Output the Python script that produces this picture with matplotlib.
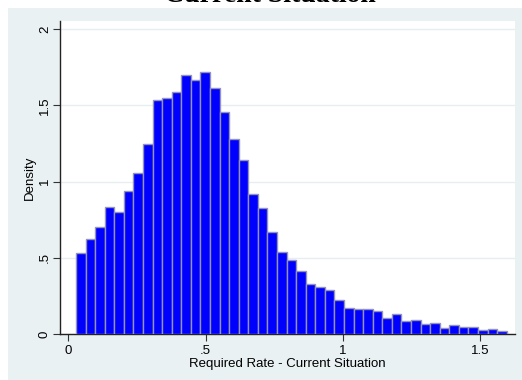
import numpy as np
import matplotlib.pyplot as plt
from matplotlib.patches import Rectangle

# histogram of required rate, 45 bins
bin_start = 0.028
bin_width = 0.03486
density = [0.53, 0.625, 0.704, 0.835, 0.80, 0.94, 1.058, 1.247, 1.533, 1.551,
           1.59, 1.70, 1.669, 1.721, 1.616, 1.459, 1.282, 1.14, 0.921, 0.825,
           0.667, 0.54, 0.483, 0.416, 0.326, 0.31, 0.291, 0.225, 0.173, 0.166,
           0.166, 0.153, 0.107, 0.129, 0.087, 0.094, 0.068, 0.072, 0.041, 0.059,
           0.046, 0.048, 0.028, 0.031, 0.022]
x_ticks = [0, 0.5, 1, 1.5]
x_labels = ["0", ".5", "1", "1.5"]
y_ticks = [0, 0.5, 1, 1.5, 2]
y_labels = ["0", ".5", "1", "1.5", "2"]

plt.rcParams['font.family'] = ['Liberation Sans', 'DejaVu Sans']

fig = plt.figure(figsize=(5.22, 3.80), dpi=100)
fig.patch.set_facecolor('white')
bg = '#eaf1f3'
fig.add_artist(Rectangle((8 / 522, 0), 1, 372 / 380, transform=fig.transFigure,
                         facecolor=bg, edgecolor='none', zorder=0))

ax = fig.add_axes([60 / 522, 46 / 380, 455 / 522, 313 / 380])
ax.set_facecolor('white')

edges = bin_start + bin_width * np.arange(len(density))
ax.bar(edges, density, width=bin_width, align='edge', color='#0000ff',
       edgecolor='#9494b8', linewidth=1.0, zorder=3)

ax.set_xlim(-0.0302, 1.6267)
ax.set_ylim(0, 2.054)
ax.set_xticks(x_ticks)
ax.set_xticklabels(x_labels, fontsize=9.5)
ax.set_yticks(y_ticks)
ax.set_yticklabels(y_labels, fontsize=9.5, rotation=90, va='center')
ax.tick_params(direction='out', length=5, width=0.8, color='#333333')
ax.tick_params(axis='x', pad=3)
ax.tick_params(axis='y', pad=1.5)
ax.yaxis.grid(True, color='#e6eef0', linewidth=1.0, zorder=0)
ax.set_axisbelow(True)

for side in ['top', 'right']:
    ax.spines[side].set_visible(False)
for side in ['left', 'bottom']:
    ax.spines[side].set_color('#222222')
    ax.spines[side].set_linewidth(1.0)

ax.set_xlabel('Required Rate - Current Situation', fontsize=9.5, labelpad=1)
ax.set_ylabel('Density', fontsize=9.5, labelpad=2)

fig.text(270 / 522, 378.5 / 380, 'Current Situation', family='Liberation Serif',
         fontsize=20, fontweight='bold', ha='center', va='baseline')

fig.savefig('out.png', dpi=100)
